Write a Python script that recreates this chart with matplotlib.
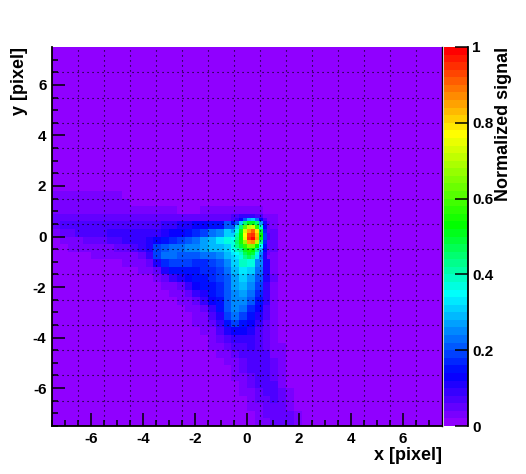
import numpy as np
import matplotlib
matplotlib.use('Agg')
import matplotlib.pyplot as plt
from matplotlib.colors import LinearSegmentedColormap, Normalize
from matplotlib.ticker import FixedLocator

plt.rcParams['font.family'] = ['Liberation Sans', 'DejaVu Sans']
plt.rcParams['font.weight'] = 'bold'
plt.rcParams['axes.unicode_minus'] = False

# signal in percent, coarse bins of 0.3 px, rows from y=1.65 down to y=-7.35
# columns start at x=-7.35, anything missing on the right is background
coarse_rows = [
    [2]*9 + [1]*24,
    [2]*10,
    [3]*10 + [2]*6 + [1]*3 + [2]*8,
    [4] + [5]*9 + [4]*11 + [4, 5, 7, 9, 8, 6, 3, 2],
    [5, 6, 6, 6, 6, 7, 7, 7, 7, 7, 7, 7, 7, 7, 8, 9, 10, 11, 12, 13, 14, 15, 20, 30, 50, 52, 35, 10, 3],
    [3, 4, 5, 6, 6, 7, 7, 8, 8, 8, 8, 8, 8, 9, 10, 12, 13, 14, 16, 19, 22, 25, 30, 42, 80, 98, 60, 15, 4],
    [1, 2, 3, 3, 4, 5, 5, 6, 7, 8, 8, 9, 10, 13, 15, 17, 19, 21, 23, 26, 29, 32, 36, 44, 70, 85, 50, 14, 4],
    [1, 1, 2, 2, 2, 2, 3, 3, 4, 5, 6, 8, 11, 18, 21, 23, 23, 24, 25, 26, 28, 29, 31, 38, 48, 50, 35, 13, 4],
    [1, 1, 1, 1, 1, 2, 2, 2, 2, 2, 3, 4, 9, 18, 22, 22, 21, 21, 21, 22, 23, 25, 28, 33, 46, 46, 28, 11, 3],
    [1]*9 + [2, 2, 3, 5, 10, 16, 19, 19, 18, 17, 17, 18, 20, 24, 30, 38, 36, 24, 10, 3],
    [1]*11 + [2, 3, 5, 10, 14, 15, 15, 15, 16, 17, 19, 23, 29, 33, 30, 22, 10, 3],
    [1]*13 + [2, 4, 8, 11, 13, 14, 15, 16, 18, 21, 26, 30, 27, 20, 10, 4],
    [1]*14 + [2, 3, 5, 9, 12, 14, 15, 17, 20, 26, 28, 25, 18, 9, 3],
    [1]*15 + [2, 3, 5, 8, 11, 14, 16, 20, 25, 26, 22, 16, 9, 3],
    [1]*16 + [2, 3, 5, 8, 12, 15, 20, 24, 24, 20, 15, 9, 3],
    [1]*17 + [2, 3, 5, 9, 14, 20, 24, 23, 17, 12, 7, 3],
    [1]*18 + [2, 3, 6, 11, 18, 22, 19, 14, 10, 6, 3],
    [1]*18 + [2, 3, 5, 9, 15, 18, 15, 12, 8, 5, 2],
    [1]*19 + [2, 3, 6, 10, 12, 12, 10, 7, 4, 2],
    [1]*20 + [2, 4, 6, 8, 9, 9, 7, 5, 3],
    [1]*20 + [2, 3, 4, 6, 7, 8, 7, 5, 3, 2],
    [1]*21 + [2, 3, 4, 6, 7, 7, 6, 3, 2],
    [1]*22 + [2, 3, 5, 7, 7, 6, 4, 2],
    [1]*23 + [2, 4, 6, 7, 7, 5, 2],
    [1]*23 + [2, 3, 5, 7, 7, 5, 3],
    [1]*24 + [2, 4, 6, 6, 6, 3],
    [1]*24 + [2, 3, 5, 6, 6, 4, 2],
    [1]*25 + [2, 4, 5, 6, 5, 2],
    [1]*25 + [2, 3, 5, 5, 5, 3],
    [1]*26 + [3, 4, 5, 5, 4, 2],
    [1]*26 + [2, 3, 4, 5, 4, 3],
]

# peak region in percent, bins of 0.15 px, x from -0.6 to 0.9, y from 0.75 down
core_rows = [
    [6, 9, 12, 20, 28, 30, 22, 12, 6, 3],
    [14, 20, 30, 44, 50, 50, 44, 26, 10, 4],
    [20, 30, 45, 60, 70, 72, 58, 38, 13, 5],
    [26, 36, 50, 72, 85, 90, 78, 48, 17, 5],
    [30, 40, 52, 76, 92, 94, 82, 52, 18, 6],
    [34, 42, 52, 74, 94, 100, 84, 50, 18, 6],
    [36, 44, 54, 66, 84, 86, 70, 42, 16, 5],
    [36, 42, 48, 56, 64, 64, 52, 34, 14, 5],
    [34, 38, 42, 50, 54, 52, 42, 28, 12, 4],
    [32, 34, 38, 46, 50, 48, 36, 24, 10, 4],
    [30, 32, 36, 42, 46, 42, 32, 22, 10, 3],
]

x_ticks = [-6, -4, -2, 0, 2, 4, 6]
y_ticks = [-6, -4, -2, 0, 2, 4, 6]
bar_ticks = [0, 0.2, 0.4, 0.6, 0.8, 1]
bar_labels = ['0', '0.2', '0.4', '0.6', '0.8', '1']

signal = np.full((50, 50), 1.0)
for i, row in enumerate(coarse_rows):
    signal[19 + i, :len(row)] = row
signal = signal / 100
core = np.array(core_rows) / 100

x_edges = np.linspace(-7.5, 7.5, 51)
y_edges = np.linspace(7.5, -7.5, 51)
core_x = np.linspace(-0.6, 0.9, 11)
core_y = np.linspace(0.75, -0.9, 12)

# ROOT style rainbow, 50 levels
cmap = LinearSegmentedColormap.from_list('root', [
    (0.0, '#9000ff'), (0.13, '#0000ff'), (0.345, '#00ffff'),
    (0.53, '#00ff00'), (0.775, '#ffff00'), (1.0, '#ff0000')], N=50)
norm = Normalize(0, 1)

W, H = 526, 474
fig = plt.figure(figsize=(W / 100, H / 100), dpi=100)
ax = fig.add_axes([52 / W, 1 - 426 / H, 390 / W, 379 / H])
ax.pcolormesh(x_edges, y_edges, signal, cmap=cmap, norm=norm)
ax.pcolormesh(core_x, core_y, core, cmap=cmap, norm=norm)
ax.set_xlim(-7.5, 7.5)
ax.set_ylim(-7.5, 7.5)

half_lines = np.arange(-6.5, 7, 1)
for v in half_lines:
    ax.axvline(v, color='k', lw=0.8, ls=(0, (1, 3.5)), zorder=3)
    ax.axhline(v, color='k', lw=0.8, ls=(0, (1, 3.5)), zorder=3)

ax.set_xticks(x_ticks)
ax.set_yticks(y_ticks)
ax.xaxis.set_minor_locator(FixedLocator(np.arange(-7.5, 7.1, 0.5)))
ax.yaxis.set_minor_locator(FixedLocator(np.arange(-7.5, 7.1, 0.5)))
ax.tick_params(which='major', direction='in', length=9.4, width=1.1, labelsize=11, pad=4)
ax.tick_params(which='minor', direction='in', length=4.4, width=1.1)
ax.spines['top'].set_visible(False)
for s in ['left', 'bottom']:
    ax.spines[s].set_linewidth(1.3)
ax.spines['right'].set_linewidth(1)

# colour bar
cax = fig.add_axes([444 / W, 1 - 426 / H, 24 / W, 379 / H])
levels = np.linspace(0, 1, 51)
cax.pcolormesh([0, 1], levels, ((levels[:-1] + levels[1:]) / 2).reshape(-1, 1), cmap=cmap, norm=norm)
cax.set_xlim(0, 1)
cax.set_ylim(0, 1)
cax.set_xticks([])
cax.yaxis.tick_right()
cax.set_yticks(bar_ticks)
cax.set_yticklabels(bar_labels)
cax.tick_params(axis='y', direction='in', length=9.4, width=1.1, labelsize=11, pad=3)
for s in ['left', 'top', 'bottom']:
    cax.spines[s].set_visible(False)
cax.spines['right'].set_linewidth(1.3)

fig.text(442 / W, 1 - 455 / H, 'x [pixel]', fontsize=13, ha='right', va='center')
fig.text(20 / W, 1 - 47 / H, 'y [pixel]', fontsize=13, rotation=90, ha='center', va='top')
fig.text(503 / W, 1 - 47 / H, 'Normalized signal', fontsize=13, rotation=90, ha='center', va='top')

fig.savefig('out.png', dpi=100)
